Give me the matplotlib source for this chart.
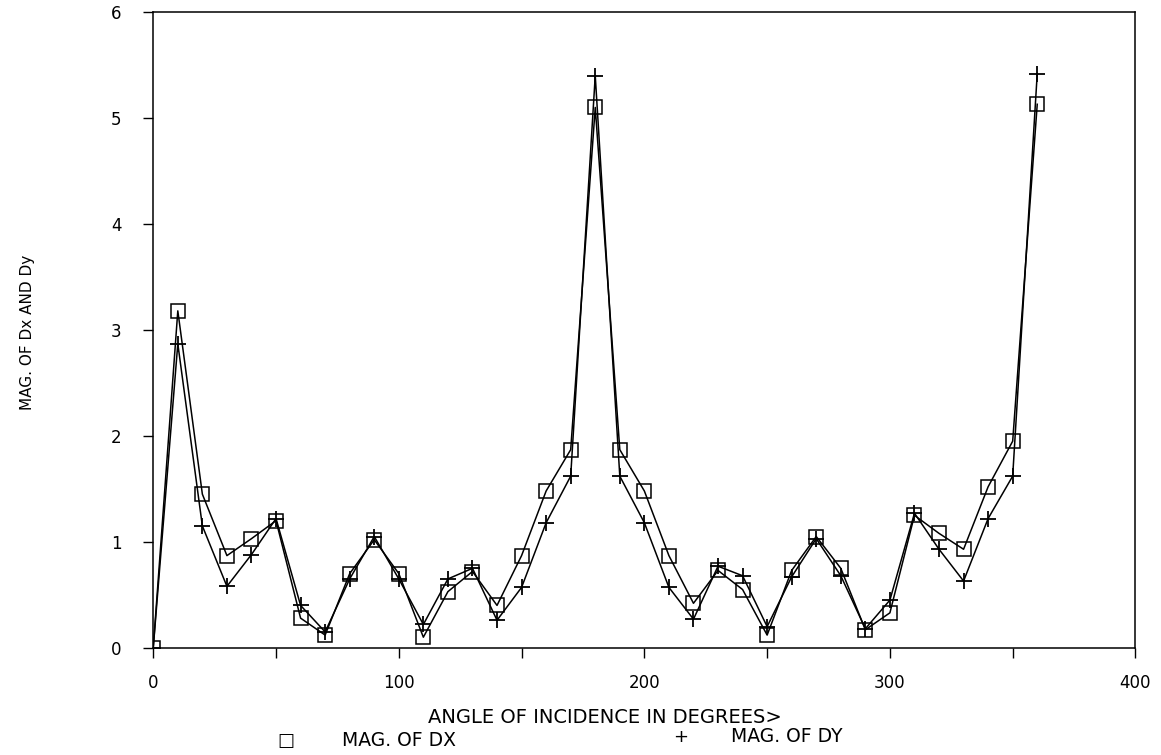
import matplotlib
matplotlib.use("Agg")
import matplotlib.pyplot as plt
from matplotlib.ticker import MultipleLocator

# angle of incidence, degrees
angle = [0, 10, 20, 30, 40, 50, 60, 70, 80, 90, 100, 110, 120, 130, 140, 150, 160, 170,
         180, 190, 200, 210, 220, 230, 240, 250, 260, 270, 280, 290, 300, 310, 320, 330,
         340, 350, 360]

mag_dx = [0.0, 3.18, 1.45, 0.87, 1.03, 1.20, 0.28, 0.12, 0.70, 1.02, 0.70, 0.10, 0.53, 0.72,
          0.40, 0.87, 1.48, 1.87, 5.10, 1.87, 1.48, 0.87, 0.42, 0.73, 0.55, 0.12, 0.73, 1.05,
          0.75, 0.17, 0.33, 1.25, 1.08, 0.93, 1.52, 1.95, 5.13]

mag_dy = [0.0, 2.87, 1.15, 0.58, 0.88, 1.22, 0.40, 0.15, 0.65, 1.05, 0.65, 0.22, 0.65, 0.75,
          0.26, 0.57, 1.18, 1.62, 5.40, 1.62, 1.18, 0.57, 0.27, 0.77, 0.68, 0.20, 0.67, 1.03,
          0.68, 0.18, 0.45, 1.27, 0.93, 0.63, 1.22, 1.62, 5.42]

x_ticks = [0, 100, 200, 300, 400]
y_ticks = [0, 1, 2, 3, 4, 5, 6]

plt.rcParams["font.family"] = ["DejaVu Sans"]

fig = plt.figure(figsize=(11.61, 7.55), dpi=100)
ax = fig.add_axes([0.132, 0.142, 0.846, 0.842])

ax.plot(angle, mag_dx, color="black", lw=1.1, marker="s", ms=9.5,
        mfc="none", mec="black", mew=1.1)
ax.plot(angle, mag_dy, color="black", lw=1.1, marker="+", ms=11, mew=1.3)

ax.set_xlim(0, 400)
ax.set_ylim(0, 6)
ax.set_xticks(x_ticks)
ax.xaxis.set_minor_locator(MultipleLocator(50))
ax.set_yticks(y_ticks)
ax.tick_params(axis="both", which="both", direction="out", length=7, width=1,
               labelsize=12, colors="black")
ax.tick_params(axis="x", which="both", pad=12)
ax.tick_params(axis="y", pad=16)
for s in ax.spines.values():
    s.set_linewidth(1.1)

fig.text(0.024, 0.56, "MAG. OF Dx AND Dy", rotation=90, ha="center", va="center",
         fontsize=11)
fig.text(0.521, 0.050, "ANGLE OF INCIDENCE IN DEGREES>", ha="center", va="center",
         fontsize=14)

# legend row under the axis label
fig.text(0.246, 0.019, "\u25a1", ha="center", va="center", fontsize=13)
fig.text(0.295, 0.019, "MAG. OF DX", ha="left", va="center", fontsize=13.5)
fig.text(0.586, 0.024, "+", ha="center", va="center", fontsize=13)
fig.text(0.630, 0.024, "MAG. OF DY", ha="left", va="center", fontsize=13.5)

fig.savefig("out.png", dpi=100)
